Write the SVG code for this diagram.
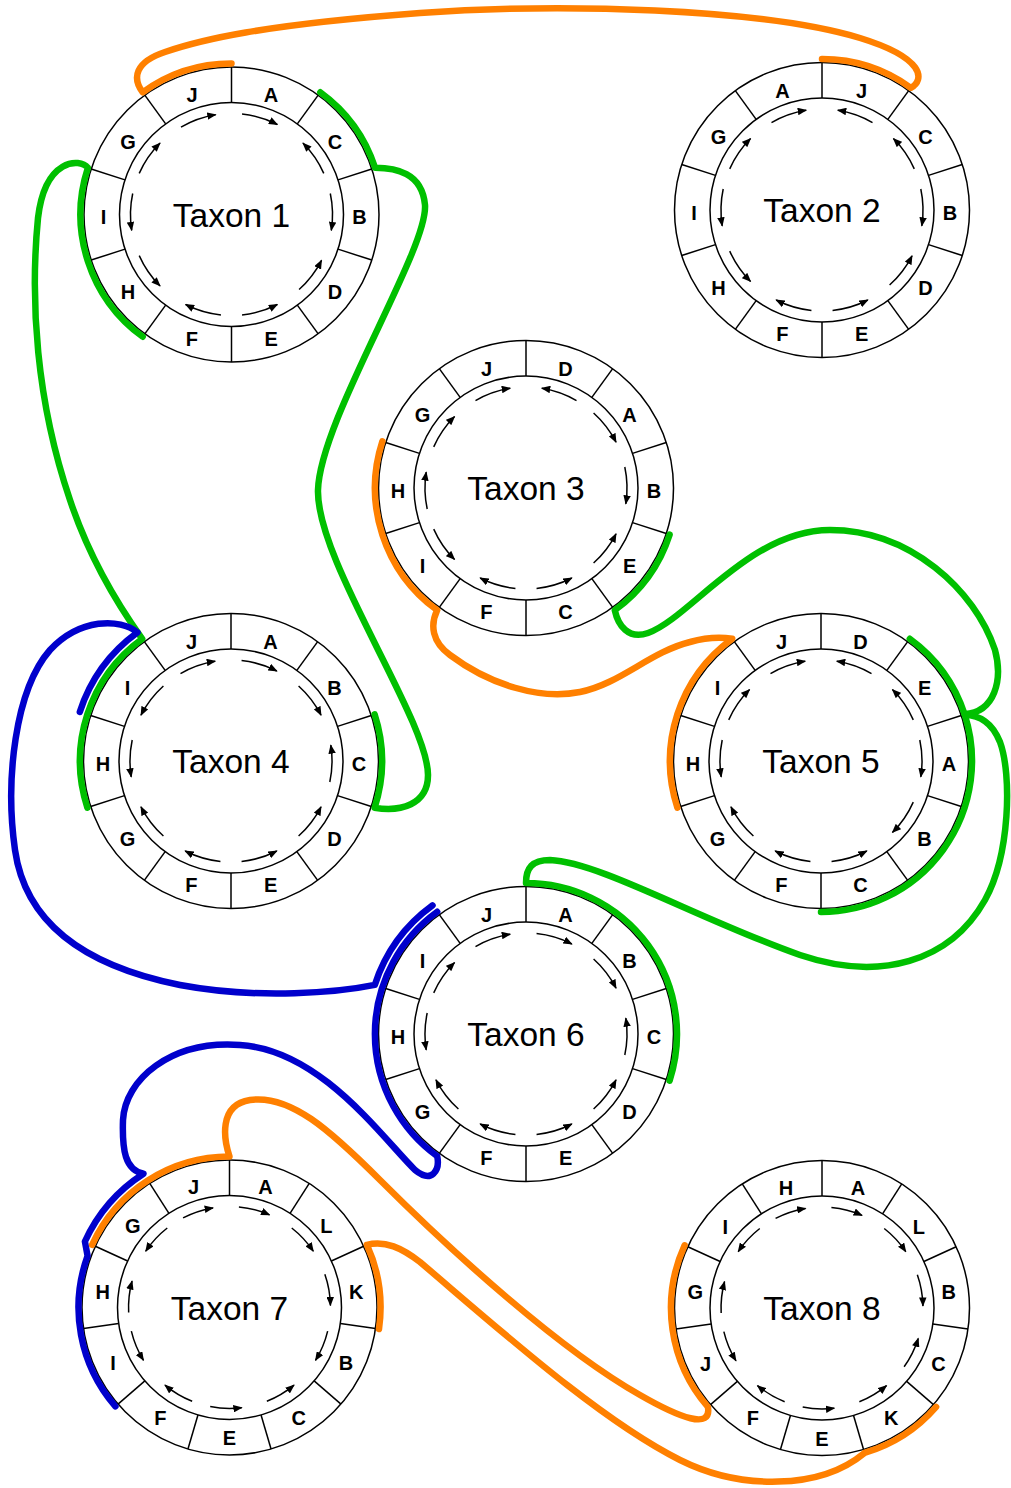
<svg xmlns="http://www.w3.org/2000/svg" xmlns:xlink="http://www.w3.org/1999/xlink" width="1011" height="1488" viewBox="0 0 1011 1488">
<style>
.ring{fill:none;stroke:#000;stroke-width:1.5}
.lab{font-family:"Liberation Sans",Arial,sans-serif;font-weight:bold;font-size:20px;text-anchor:middle;fill:#000}
.name{font-family:"Liberation Sans",Arial,sans-serif;font-size:33.5px;text-anchor:middle;fill:#000}
.con{fill:none;stroke-width:6.5;stroke-linecap:round;stroke-linejoin:round}
.or{stroke:#ff8000}
.gr{stroke:#00c000}
.bl{stroke:#0000cc}
</style>
<defs>
<marker id="ah" viewBox="0 0 10 8" refX="9" refY="4" markerWidth="9.5" markerHeight="7.5" orient="auto" markerUnits="userSpaceOnUse"><path d="M0,0 L10,4 L0,8 z" fill="#000"/></marker>
<line id="d" x1="0" y1="-112" x2="0" y2="-147.5" stroke="#000" stroke-width="1.5"/>
<!-- orientation arrows, drawn at the top and rotated into each segment -->
<path id="cw10" d="M-21,-98.8 A101 101 0 0 1 15.8,-99.8" fill="none" stroke="#000" stroke-width="1.5" marker-end="url(#ah)"/>
<path id="ccw10" d="M21,-98.8 A101 101 0 0 0 -15.8,-99.8" fill="none" stroke="#000" stroke-width="1.5" marker-end="url(#ah)"/>
<path id="cw11" d="M-19.3,-99.1 A101 101 0 0 1 12.3,-100.2" fill="none" stroke="#000" stroke-width="1.5" marker-end="url(#ah)"/>
<path id="ccw11" d="M19.3,-99.1 A101 101 0 0 0 -12.3,-100.2" fill="none" stroke="#000" stroke-width="1.5" marker-end="url(#ah)"/>
<g id="frame10">
<circle class="ring" r="147.5"/><circle class="ring" r="112"/>
<use href="#d"/><use href="#d" transform="rotate(36)"/><use href="#d" transform="rotate(72)"/><use href="#d" transform="rotate(108)"/><use href="#d" transform="rotate(144)"/><use href="#d" transform="rotate(180)"/><use href="#d" transform="rotate(216)"/><use href="#d" transform="rotate(252)"/><use href="#d" transform="rotate(288)"/><use href="#d" transform="rotate(324)"/>
</g>
<g id="frame11">
<circle class="ring" r="147.5"/><circle class="ring" r="112"/>
<use href="#d"/><use href="#d" transform="rotate(32.73)"/><use href="#d" transform="rotate(65.45)"/><use href="#d" transform="rotate(98.18)"/><use href="#d" transform="rotate(130.91)"/><use href="#d" transform="rotate(163.64)"/><use href="#d" transform="rotate(196.36)"/><use href="#d" transform="rotate(229.09)"/><use href="#d" transform="rotate(261.82)"/><use href="#d" transform="rotate(294.55)"/><use href="#d" transform="rotate(327.27)"/>
</g>
</defs>
<rect width="1011" height="1488" fill="#fff"/>

<g id="taxon1" transform="translate(231.5,214.5)">
<use href="#frame10"/>
<text class="lab" y="9.6" transform="rotate(18) translate(0,-128) rotate(-18)">A</text>
<text class="lab" y="9.6" transform="rotate(54) translate(0,-128) rotate(-54)">C</text>
<text class="lab" y="9.6" transform="rotate(90) translate(0,-128) rotate(-90)">B</text>
<text class="lab" y="9.6" transform="rotate(126) translate(0,-128) rotate(-126)">D</text>
<text class="lab" y="9.6" transform="rotate(162) translate(0,-128) rotate(-162)">E</text>
<text class="lab" y="9.6" transform="rotate(198) translate(0,-128) rotate(-198)">F</text>
<text class="lab" y="9.6" transform="rotate(234) translate(0,-128) rotate(-234)">H</text>
<text class="lab" y="9.6" transform="rotate(270) translate(0,-128) rotate(-270)">I</text>
<text class="lab" y="9.6" transform="rotate(306) translate(0,-128) rotate(-306)">G</text>
<text class="lab" y="9.6" transform="rotate(342) translate(0,-128) rotate(-342)">J</text>
<use href="#cw10" transform="rotate(18)"/><use href="#ccw10" transform="rotate(54)"/><use href="#cw10" transform="rotate(90)"/><use href="#ccw10" transform="rotate(126)"/><use href="#ccw10" transform="rotate(162)"/><use href="#cw10" transform="rotate(198)"/><use href="#ccw10" transform="rotate(234)"/><use href="#ccw10" transform="rotate(270)"/><use href="#cw10" transform="rotate(306)"/><use href="#cw10" transform="rotate(342)"/>
<text class="name" y="12">Taxon 1</text>
</g>

<g id="taxon2" transform="translate(822,210)">
<use href="#frame10"/>
<text class="lab" y="9.6" transform="rotate(18) translate(0,-128) rotate(-18)">J</text>
<text class="lab" y="9.6" transform="rotate(54) translate(0,-128) rotate(-54)">C</text>
<text class="lab" y="9.6" transform="rotate(90) translate(0,-128) rotate(-90)">B</text>
<text class="lab" y="9.6" transform="rotate(126) translate(0,-128) rotate(-126)">D</text>
<text class="lab" y="9.6" transform="rotate(162) translate(0,-128) rotate(-162)">E</text>
<text class="lab" y="9.6" transform="rotate(198) translate(0,-128) rotate(-198)">F</text>
<text class="lab" y="9.6" transform="rotate(234) translate(0,-128) rotate(-234)">H</text>
<text class="lab" y="9.6" transform="rotate(270) translate(0,-128) rotate(-270)">I</text>
<text class="lab" y="9.6" transform="rotate(306) translate(0,-128) rotate(-306)">G</text>
<text class="lab" y="9.6" transform="rotate(342) translate(0,-128) rotate(-342)">A</text>
<use href="#ccw10" transform="rotate(18)"/><use href="#ccw10" transform="rotate(54)"/><use href="#cw10" transform="rotate(90)"/><use href="#ccw10" transform="rotate(126)"/><use href="#ccw10" transform="rotate(162)"/><use href="#cw10" transform="rotate(198)"/><use href="#ccw10" transform="rotate(234)"/><use href="#ccw10" transform="rotate(270)"/><use href="#cw10" transform="rotate(306)"/><use href="#cw10" transform="rotate(342)"/>
<text class="name" y="12">Taxon 2</text>
</g>

<g id="taxon3" transform="translate(526,488)">
<use href="#frame10"/>
<text class="lab" y="9.6" transform="rotate(18) translate(0,-128) rotate(-18)">D</text>
<text class="lab" y="9.6" transform="rotate(54) translate(0,-128) rotate(-54)">A</text>
<text class="lab" y="9.6" transform="rotate(90) translate(0,-128) rotate(-90)">B</text>
<text class="lab" y="9.6" transform="rotate(126) translate(0,-128) rotate(-126)">E</text>
<text class="lab" y="9.6" transform="rotate(162) translate(0,-128) rotate(-162)">C</text>
<text class="lab" y="9.6" transform="rotate(198) translate(0,-128) rotate(-198)">F</text>
<text class="lab" y="9.6" transform="rotate(234) translate(0,-128) rotate(-234)">I</text>
<text class="lab" y="9.6" transform="rotate(270) translate(0,-128) rotate(-270)">H</text>
<text class="lab" y="9.6" transform="rotate(306) translate(0,-128) rotate(-306)">G</text>
<text class="lab" y="9.6" transform="rotate(342) translate(0,-128) rotate(-342)">J</text>
<use href="#ccw10" transform="rotate(18)"/><use href="#cw10" transform="rotate(54)"/><use href="#cw10" transform="rotate(90)"/><use href="#ccw10" transform="rotate(126)"/><use href="#ccw10" transform="rotate(162)"/><use href="#cw10" transform="rotate(198)"/><use href="#ccw10" transform="rotate(234)"/><use href="#cw10" transform="rotate(270)"/><use href="#cw10" transform="rotate(306)"/><use href="#cw10" transform="rotate(342)"/>
<text class="name" y="12">Taxon 3</text>
</g>

<g id="taxon4" transform="translate(231,761)">
<use href="#frame10"/>
<text class="lab" y="9.6" transform="rotate(18) translate(0,-128) rotate(-18)">A</text>
<text class="lab" y="9.6" transform="rotate(54) translate(0,-128) rotate(-54)">B</text>
<text class="lab" y="9.6" transform="rotate(90) translate(0,-128) rotate(-90)">C</text>
<text class="lab" y="9.6" transform="rotate(126) translate(0,-128) rotate(-126)">D</text>
<text class="lab" y="9.6" transform="rotate(162) translate(0,-128) rotate(-162)">E</text>
<text class="lab" y="9.6" transform="rotate(198) translate(0,-128) rotate(-198)">F</text>
<text class="lab" y="9.6" transform="rotate(234) translate(0,-128) rotate(-234)">G</text>
<text class="lab" y="9.6" transform="rotate(270) translate(0,-128) rotate(-270)">H</text>
<text class="lab" y="9.6" transform="rotate(306) translate(0,-128) rotate(-306)">I</text>
<text class="lab" y="9.6" transform="rotate(342) translate(0,-128) rotate(-342)">J</text>
<use href="#cw10" transform="rotate(18)"/><use href="#cw10" transform="rotate(54)"/><use href="#ccw10" transform="rotate(90)"/><use href="#ccw10" transform="rotate(126)"/><use href="#ccw10" transform="rotate(162)"/><use href="#cw10" transform="rotate(198)"/><use href="#cw10" transform="rotate(234)"/><use href="#ccw10" transform="rotate(270)"/><use href="#ccw10" transform="rotate(306)"/><use href="#cw10" transform="rotate(342)"/>
<text class="name" y="12">Taxon 4</text>
</g>

<g id="taxon5" transform="translate(821,761)">
<use href="#frame10"/>
<text class="lab" y="9.6" transform="rotate(18) translate(0,-128) rotate(-18)">D</text>
<text class="lab" y="9.6" transform="rotate(54) translate(0,-128) rotate(-54)">E</text>
<text class="lab" y="9.6" transform="rotate(90) translate(0,-128) rotate(-90)">A</text>
<text class="lab" y="9.6" transform="rotate(126) translate(0,-128) rotate(-126)">B</text>
<text class="lab" y="9.6" transform="rotate(162) translate(0,-128) rotate(-162)">C</text>
<text class="lab" y="9.6" transform="rotate(198) translate(0,-128) rotate(-198)">F</text>
<text class="lab" y="9.6" transform="rotate(234) translate(0,-128) rotate(-234)">G</text>
<text class="lab" y="9.6" transform="rotate(270) translate(0,-128) rotate(-270)">H</text>
<text class="lab" y="9.6" transform="rotate(306) translate(0,-128) rotate(-306)">I</text>
<text class="lab" y="9.6" transform="rotate(342) translate(0,-128) rotate(-342)">J</text>
<use href="#ccw10" transform="rotate(18)"/><use href="#ccw10" transform="rotate(54)"/><use href="#cw10" transform="rotate(90)"/><use href="#cw10" transform="rotate(126)"/><use href="#ccw10" transform="rotate(162)"/><use href="#cw10" transform="rotate(198)"/><use href="#cw10" transform="rotate(234)"/><use href="#ccw10" transform="rotate(270)"/><use href="#cw10" transform="rotate(306)"/><use href="#cw10" transform="rotate(342)"/>
<text class="name" y="12">Taxon 5</text>
</g>

<g id="taxon6" transform="translate(526,1034)">
<use href="#frame10"/>
<text class="lab" y="9.6" transform="rotate(18) translate(0,-128) rotate(-18)">A</text>
<text class="lab" y="9.6" transform="rotate(54) translate(0,-128) rotate(-54)">B</text>
<text class="lab" y="9.6" transform="rotate(90) translate(0,-128) rotate(-90)">C</text>
<text class="lab" y="9.6" transform="rotate(126) translate(0,-128) rotate(-126)">D</text>
<text class="lab" y="9.6" transform="rotate(162) translate(0,-128) rotate(-162)">E</text>
<text class="lab" y="9.6" transform="rotate(198) translate(0,-128) rotate(-198)">F</text>
<text class="lab" y="9.6" transform="rotate(234) translate(0,-128) rotate(-234)">G</text>
<text class="lab" y="9.6" transform="rotate(270) translate(0,-128) rotate(-270)">H</text>
<text class="lab" y="9.6" transform="rotate(306) translate(0,-128) rotate(-306)">I</text>
<text class="lab" y="9.6" transform="rotate(342) translate(0,-128) rotate(-342)">J</text>
<use href="#cw10" transform="rotate(18)"/><use href="#cw10" transform="rotate(54)"/><use href="#ccw10" transform="rotate(90)"/><use href="#ccw10" transform="rotate(126)"/><use href="#ccw10" transform="rotate(162)"/><use href="#cw10" transform="rotate(198)"/><use href="#cw10" transform="rotate(234)"/><use href="#ccw10" transform="rotate(270)"/><use href="#cw10" transform="rotate(306)"/><use href="#cw10" transform="rotate(342)"/>
<text class="name" y="12">Taxon 6</text>
</g>

<g id="taxon7" transform="translate(229.5,1307.5)">
<use href="#frame11"/>
<text class="lab" y="9.6" transform="rotate(16.36) translate(0,-128) rotate(-16.36)">A</text>
<text class="lab" y="9.6" transform="rotate(49.09) translate(0,-128) rotate(-49.09)">L</text>
<text class="lab" y="9.6" transform="rotate(81.82) translate(0,-128) rotate(-81.82)">K</text>
<text class="lab" y="9.6" transform="rotate(114.55) translate(0,-128) rotate(-114.55)">B</text>
<text class="lab" y="9.6" transform="rotate(147.27) translate(0,-128) rotate(-147.27)">C</text>
<text class="lab" y="9.6" transform="rotate(180) translate(0,-128) rotate(-180)">E</text>
<text class="lab" y="9.6" transform="rotate(212.73) translate(0,-128) rotate(-212.73)">F</text>
<text class="lab" y="9.6" transform="rotate(245.45) translate(0,-128) rotate(-245.45)">I</text>
<text class="lab" y="9.6" transform="rotate(278.18) translate(0,-128) rotate(-278.18)">H</text>
<text class="lab" y="9.6" transform="rotate(310.91) translate(0,-128) rotate(-310.91)">G</text>
<text class="lab" y="9.6" transform="rotate(343.64) translate(0,-128) rotate(-343.64)">J</text>
<use href="#cw11" transform="rotate(16.36)"/><use href="#cw11" transform="rotate(49.09)"/><use href="#cw11" transform="rotate(81.82)"/><use href="#cw11" transform="rotate(114.55)"/><use href="#ccw11" transform="rotate(147.27)"/><use href="#ccw11" transform="rotate(180)"/><use href="#cw11" transform="rotate(212.73)"/><use href="#ccw11" transform="rotate(245.45)"/><use href="#cw11" transform="rotate(278.18)"/><use href="#ccw11" transform="rotate(310.91)"/><use href="#cw11" transform="rotate(343.64)"/>
<text class="name" y="12">Taxon 7</text>
</g>

<g id="taxon8" transform="translate(822,1308)">
<use href="#frame11"/>
<text class="lab" y="9.6" transform="rotate(16.36) translate(0,-128) rotate(-16.36)">A</text>
<text class="lab" y="9.6" transform="rotate(49.09) translate(0,-128) rotate(-49.09)">L</text>
<text class="lab" y="9.6" transform="rotate(81.82) translate(0,-128) rotate(-81.82)">B</text>
<text class="lab" y="9.6" transform="rotate(114.55) translate(0,-128) rotate(-114.55)">C</text>
<text class="lab" y="9.6" transform="rotate(147.27) translate(0,-128) rotate(-147.27)">K</text>
<text class="lab" y="9.6" transform="rotate(180) translate(0,-128) rotate(-180)">E</text>
<text class="lab" y="9.6" transform="rotate(212.73) translate(0,-128) rotate(-212.73)">F</text>
<text class="lab" y="9.6" transform="rotate(245.45) translate(0,-128) rotate(-245.45)">J</text>
<text class="lab" y="9.6" transform="rotate(278.18) translate(0,-128) rotate(-278.18)">G</text>
<text class="lab" y="9.6" transform="rotate(310.91) translate(0,-128) rotate(-310.91)">I</text>
<text class="lab" y="9.6" transform="rotate(343.64) translate(0,-128) rotate(-343.64)">H</text>
<use href="#cw11" transform="rotate(16.36)"/><use href="#cw11" transform="rotate(49.09)"/><use href="#cw11" transform="rotate(81.82)"/><use href="#ccw11" transform="rotate(114.55)"/><use href="#ccw11" transform="rotate(147.27)"/><use href="#ccw11" transform="rotate(180)"/><use href="#cw11" transform="rotate(212.73)"/><use href="#ccw11" transform="rotate(245.45)"/><use href="#cw11" transform="rotate(278.18)"/><use href="#ccw11" transform="rotate(310.91)"/><use href="#cw11" transform="rotate(343.64)"/>
<text class="name" y="12">Taxon 8</text>
</g>

<g id="connectors">
<!-- Taxon 1 J to Taxon 2 J -->
<path class="con or" d="M231.5,63.5 A151 151 0 0 0 142.7,92.3 C132,78 135,62 165,52 C200,40 260,25 420,13 C560,3 760,8 860,38 C925,58 925,80 910.8,87.8 A151 151 0 0 0 822,59"/>
<!-- Taxon 1 C to Taxon 4 C -->
<path class="con gr" d="M320.3,92.3 A151 151 0 0 1 375.1,167.8 C395,168 422,172 425,205 C428,250 320,420 318,490 C316,560 428,720 428,775 C428,805 400,812 374.6,807.7 A151 151 0 0 0 374.6,714.3"/>
<!-- Taxon 1 H,I to Taxon 4 I,H -->
<path class="con gr" d="M142.7,336.7 A151 151 0 0 1 87.9,167.8 C80,158 45,158 38,218 C30,300 36,400 70,500 C90,560 118,605 142.2,638.8 A151 151 0 0 0 87.4,807.7"/>
<!-- Taxon 4 I to Taxon 6 I -->
<path class="con bl" d="M79.8,711.9 A159 159 0 0 1 137.5,632.4 C120,618 80,618 50,650 C15,690 5,780 15,850 C25,920 80,965 180,985 C260,1000 340,992 374.8,984.9 A159 159 0 0 1 432.5,905.4"/>
<!-- Taxon 6 I,H,G to Taxon 7 G,H,I -->
<path class="con bl" d="M437.2,911.8 A151 151 0 0 0 437.2,1156.2 C440,1170 432,1184 415,1170 C380,1135 320,1050 240,1045 C170,1040 125,1080 123,1120 C122,1150 125,1170 143.5,1173.7 A159 159 0 0 0 84.9,1241.5 L87.6,1255.9 A151 151 0 0 0 115.4,1406.4"/>
<!-- Taxon 3 H,I to Taxon 5 I,H -->
<path class="con or" d="M382.4,441.3 A151 151 0 0 0 437.2,610.2 C430,625 432,642 450,655 C490,685 540,700 580,692 C620,684 650,652 690,642 C708,637 720,637 732.2,638.8 A151 151 0 0 0 677.4,807.7"/>
<!-- Taxon 3 E to Taxon 5 E -->
<path class="con gr" d="M669.6,534.7 A151 151 0 0 1 614.8,610.2 C618,625 628,640 648,633 C690,618 750,530 830,530 C910,530 975,590 995,650 C1003,680 995,712 964.6,714.3 A151 151 0 0 0 909.8,638.8"/>
<!-- Taxon 6 A,B,C to Taxon 5 A,B,C -->
<path class="con gr" d="M669.6,1080.7 A151 151 0 0 0 526,883 C526,868 532,860 550,860 C600,862 700,920 800,955 C880,982 950,962 985,900 C1010,855 1012,775 1000,742 C992,722 980,716 964.6,714.3 A151 151 0 0 1 821,912"/>
<!-- Taxon 7 G,J to Taxon 8 J,G -->
<path class="con or" d="M92.1,1244.8 A151 151 0 0 1 229.5,1156.5 C224,1140 218,1105 250,1100 C290,1094 330,1130 380,1180 C450,1250 560,1350 640,1395 C680,1418 712,1430 707.9,1406.9 A151 151 0 0 1 684.6,1245.3"/>
<!-- Taxon 7 K to Taxon 8 K -->
<path class="con or" d="M379,1329 A151 151 0 0 0 366.9,1244.8 C385,1240 402,1248 420,1262 C500,1330 600,1420 680,1460 C740,1490 820,1490 864.5,1452.9 A151 151 0 0 0 936.1,1406.9"/>
</g>
</svg>
